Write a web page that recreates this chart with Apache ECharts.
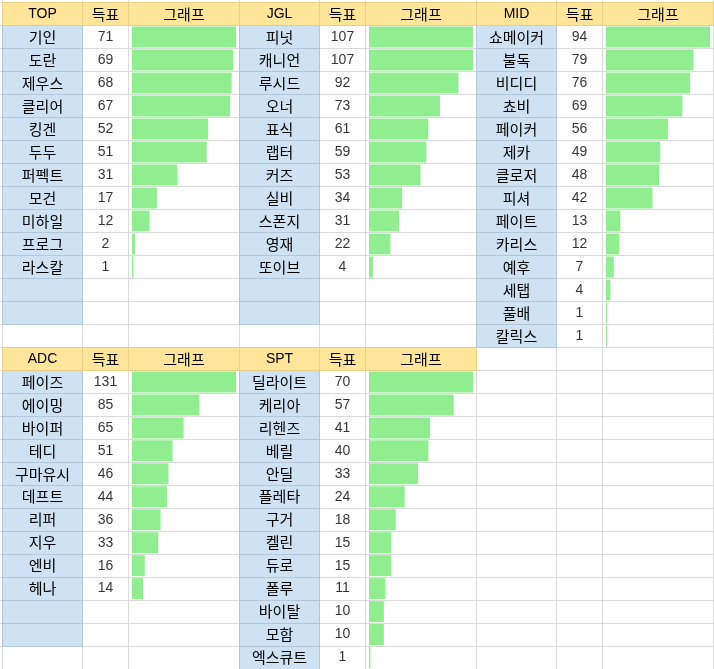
<!DOCTYPE html>
<html>
<head>
<meta charset="utf-8">
<script src="https://cdn.jsdelivr.net/npm/echarts@6/dist/echarts.min.js"></script>
<style>
html,body{margin:0;padding:0;background:#fff;}
#chart{width:714px;height:669px;}
</style>
</head>
<body>
<div id="chart"></div>
<script>
// ---- data ----
const voteHeader = '득표';
const graphHeader = '그래프';

const topTitle = 'TOP';
const topNames = ['기인','도란','제우스','클리어','킹겐','두두','퍼펙트','모건','미하일','프로그','라스칼'];
const topVotes = [71,69,68,67,52,51,31,17,12,2,1];

const jglTitle = 'JGL';
const jglNames = ['피넛','캐니언','루시드','오너','표식','랩터','커즈','실비','스폰지','영재','또이브'];
const jglVotes = [107,107,92,73,61,59,53,34,31,22,4];

const midTitle = 'MID';
const midNames = ['쇼메이커','불독','비디디','쵸비','페이커','제카','클로저','피셔','페이트','카리스','예후','세탭','풀배','칼릭스'];
const midVotes = [94,79,76,69,56,49,48,42,13,12,7,4,1,1];

const adcTitle = 'ADC';
const adcNames = ['페이즈','에이밍','바이퍼','테디','구마유시','데프트','리퍼','지우','엔비','헤나'];
const adcVotes = [131,85,65,51,46,44,36,33,16,14];

const sptTitle = 'SPT';
const sptNames = ['딜라이트','케리아','리헨즈','베릴','안딜','플레타','구거','켈린','듀로','폴루','바이탈','모함','엑스큐트'];
const sptVotes = [70,57,41,40,33,24,18,15,15,11,10,10,1];

// ---- layout / style ----
const ROW_H = 23, X0 = 2.5, Y0 = 2.5;
const COLW = [80, 46, 111];
const BLOCK_W = 237;
const FONT = "'Liberation Sans', Arial, 'Noto Sans CJK KR', sans-serif";
const KFONT = "'Noto Sans CJK KR', sans-serif";
const FS = 14, KFS = 15;
const C_BLUE = '#cfe2f3', C_BLUE_LINE = '#b3c6da', C_YEL = '#ffe599', C_YEL_LINE = '#e8cf86';
const C_GREEN = '#90ee90', C_GRID = '#dadada';

const tables = [
  {title: topTitle, names: topNames, votes: topVotes, col: 0, sec: 0, blue: 13},
  {title: jglTitle, names: jglNames, votes: jglVotes, col: 1, sec: 0, blue: 13},
  {title: midTitle, names: midNames, votes: midVotes, col: 2, sec: 0, blue: 14},
  {title: adcTitle, names: adcNames, votes: adcVotes, col: 0, sec: 1, blue: 12},
  {title: sptTitle, names: sptNames, votes: sptVotes, col: 1, sec: 1, blue: 13}
];
const SEC_ROWS = [14, 13];
const secHeaderY = s => Y0 + (s === 0 ? 0 : (SEC_ROWS[0] + 1) * ROW_H);

const grid = [], xAxis = [], yAxis = [], series = [], graphic = [];
const line = (x1, y1, x2, y2, c, z) => graphic.push({type: 'line', z: z, silent: true,
  shape: {x1, y1, x2, y2}, style: {stroke: c, lineWidth: 1}});

// sheet grid lines (on top of cell fills)
const colXs = [];
for (let b = 0; b <= 3; b++) {
  let x = X0 + b * BLOCK_W;
  if (b < 3) { colXs.push(x, x + COLW[0], x + COLW[0] + COLW[1]); } else colXs.push(x);
}
colXs.forEach(x => line(x, 0, x, 669, C_GRID, 5));
for (let k = 0; k <= 29; k++) {
  const y = Y0 + k * ROW_H;
  line(0, y, 714, y, C_GRID, 5);
}

tables.forEach((t, ti) => {
  const gx = X0 + t.col * BLOCK_W;
  const hy = secHeaderY(t.sec);
  const top = hy + ROW_H;
  const n = SEC_ROWS[t.sec];
  const rows = [];
  for (let i = 0; i < n; i++) rows.push(i < t.names.length ? t.names[i] : ' '.repeat(i + 1));

  // blue cell borders
  const by = top + t.blue * ROW_H;
  for (let k = 0; k <= t.blue; k++) line(gx, top + k * ROW_H, gx + COLW[0], top + k * ROW_H, C_BLUE_LINE, 6);
  line(gx, top, gx, by, C_BLUE_LINE, 6);
  line(gx + COLW[0], top, gx + COLW[0], by, C_BLUE_LINE, 6);

  // header cells
  const heads = [t.title, voteHeader, graphHeader];
  let cx = gx;
  heads.forEach((h, hi) => {
    graphic.push({type: 'rect', z: 10, silent: true, shape: {x: cx, y: hy, width: COLW[hi], height: ROW_H},
      style: {fill: C_YEL, stroke: C_YEL_LINE, lineWidth: 1}});
    graphic.push({type: 'text', z: 11, silent: true, x: cx + COLW[hi] / 2, y: hy + ROW_H / 2 + 0.5,
      style: {text: h, fill: '#000', font: (hi === 0 ? FS + 'px ' + FONT : KFS + 'px ' + KFONT),
        textAlign: 'center', textVerticalAlign: 'middle'}});
    cx += COLW[hi];
  });

  const lefts = [gx, gx + COLW[0], gx + COLW[0] + COLW[1] + 3.5];
  const widths = [COLW[0], COLW[1], 104];
  for (let g = 0; g < 3; g++) {
    const idx = ti * 3 + g;
    grid.push({left: lefts[g], top: top, width: widths[g], height: n * ROW_H, containLabel: false});
    xAxis.push({type: 'value', gridIndex: idx, min: 0, max: g === 2 ? Math.max(...t.votes) : 1, show: false});
    yAxis.push({type: 'category', gridIndex: idx, data: rows, inverse: true, show: false});
  }
  // name cells (blue)
  series.push({
    type: 'bar', xAxisIndex: ti * 3, yAxisIndex: ti * 3, barWidth: '100%', barCategoryGap: 0,
    silent: true, animation: false, z: 2,
    data: rows.map((r, i) => i < t.blue ? 1 : '-'),
    itemStyle: {color: C_BLUE},
    label: {show: true, position: 'inside', color: '#000', fontSize: KFS, fontFamily: KFONT,
      formatter: p => p.name.trim()}
  });
  // vote numbers
  series.push({
    type: 'scatter', xAxisIndex: ti * 3 + 1, yAxisIndex: ti * 3 + 1, symbolSize: 1,
    silent: true, animation: false,
    itemStyle: {color: 'rgba(0,0,0,0)'},
    data: t.votes.map((v, i) => [0.5, i, v]),
    label: {show: true, position: 'inside', color: '#000', fontSize: FS, fontFamily: FONT,
      formatter: p => String(p.value[2])}
  });
  // graph bars
  series.push({
    type: 'bar', xAxisIndex: ti * 3 + 2, yAxisIndex: ti * 3 + 2, barWidth: 21,
    silent: true, animation: false,
    data: t.votes,
    itemStyle: {color: C_GREEN}
  });
});

const chart = echarts.init(document.getElementById('chart'), null, {renderer: 'canvas'});
chart.setOption({animation: false, backgroundColor: '#fff', grid, xAxis, yAxis, series, graphic});
</script>
</body>
</html>
